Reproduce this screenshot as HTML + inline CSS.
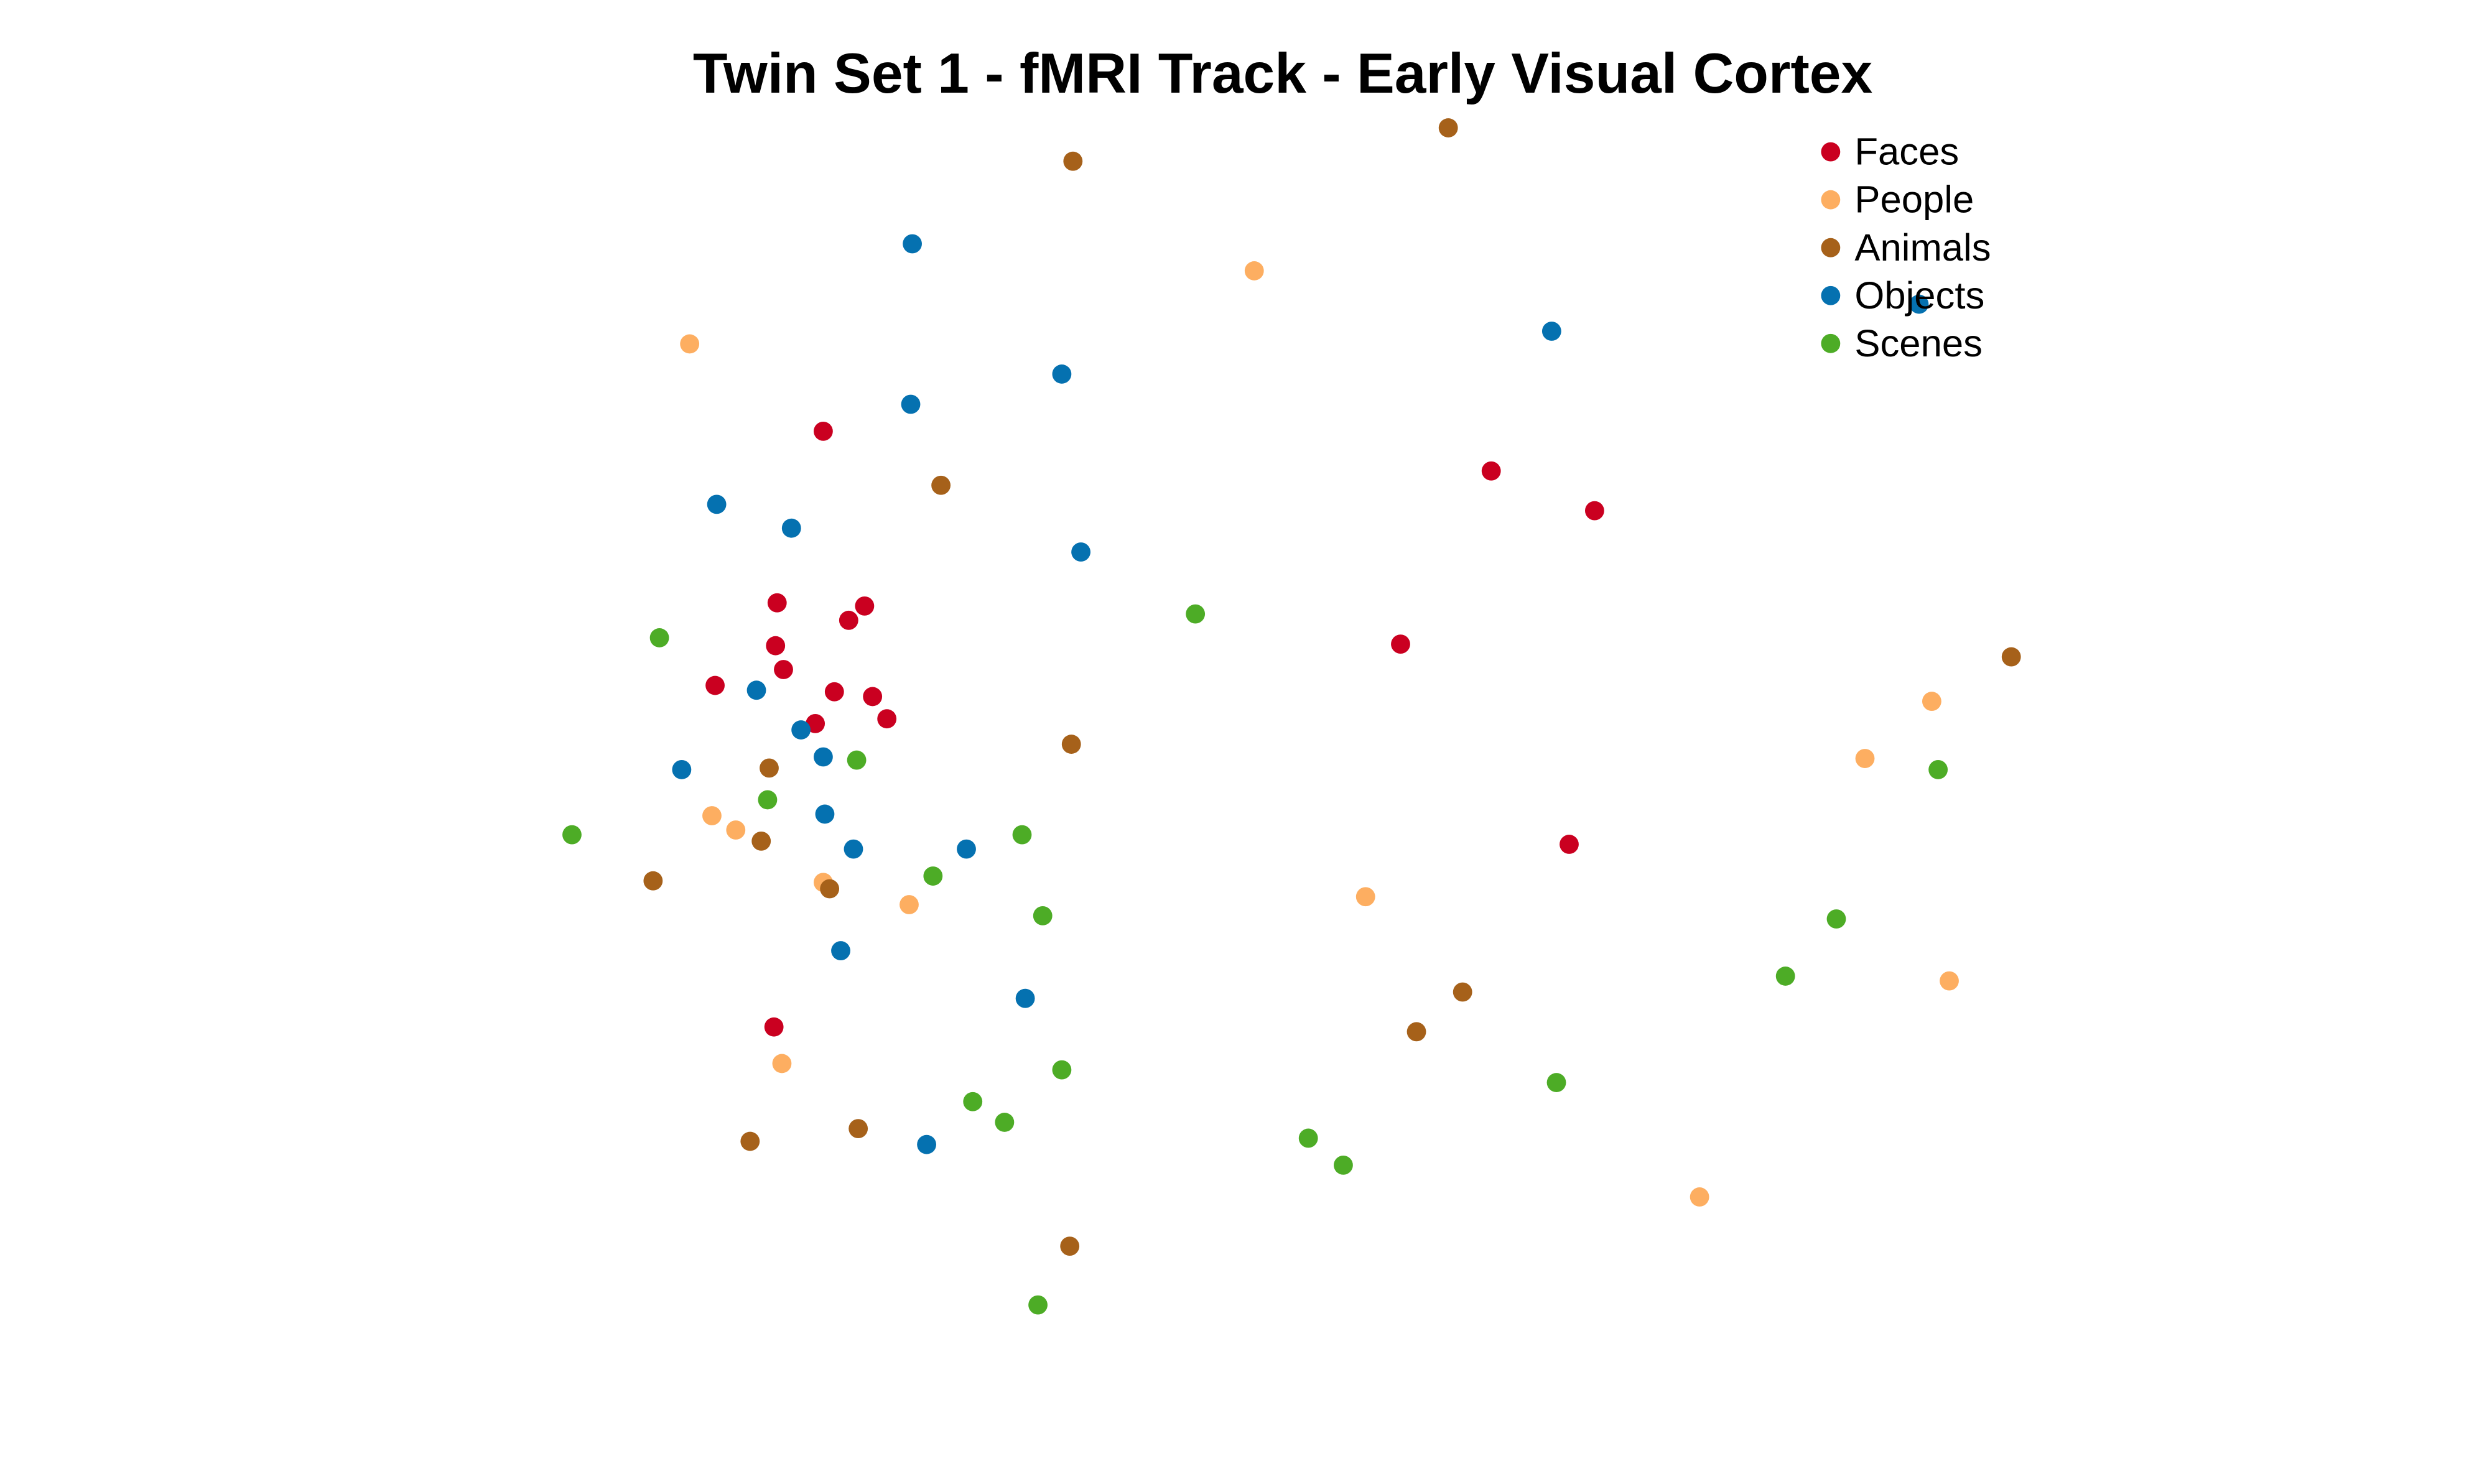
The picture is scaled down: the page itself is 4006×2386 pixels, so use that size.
<!DOCTYPE html>
<html><head><meta charset="utf-8"><title>Twin Set 1 - fMRI Track - Early Visual Cortex</title>
<style>html,body{margin:0;padding:0;background:#fff;}svg{display:block;}</style></head>
<body>
<svg id="chart" width="4006" height="2386" viewBox="0 0 1560 929" xmlns="http://www.w3.org/2000/svg">
<rect x="0" y="0" width="1560" height="929" fill="#fff"/>
<text x="803" y="58" text-anchor="middle" font-family="Liberation Sans, Arial, sans-serif" font-weight="bold" font-size="35.5" fill="#000">Twin Set 1 - fMRI Track - Early Visual Cortex</text>
<g id="points"></g>
<g id="legend"></g>
</svg>
<script>
// Data in arbitrary MDS units (x right, y up)
const categories = ["Faces","People","Animals","Objects","Scenes"];
const colors = ["#ca0020","#fdae61","#a6611a","#0571b0","#4dac26"];
const facesX = [-2.63,1.57,2.22,-2.92,-2.37,-2.47,-2.93,1.00,-2.88,-3.31,-2.56,-2.32,-2.23,-2.68,2.06,-2.94];
const facesY = [1.94,1.69,1.44,0.86,0.84,0.75,0.59,0.60,0.44,0.34,0.30,0.27,0.13,0.10,-0.66,-1.81];
const peopleX = [-3.47,0.08,4.34,3.92,-3.33,-3.18,-2.63,-2.09,0.78,4.45,-2.89,2.88];
const peopleY = [2.49,2.95,0.24,-0.12,-0.48,-0.57,-0.90,-1.04,-0.99,-1.52,-2.04,-2.88];
const animalsX = [-1.06,1.30,-1.89,4.84,-1.07,-2.97,-3.02,-3.70,-2.59,1.39,1.10,-2.41,-3.09,-1.08];
const animalsY = [3.64,3.85,1.60,0.52,-0.03,-0.18,-0.64,-0.89,-0.94,-1.59,-1.84,-2.45,-2.53,-3.19];
const objectsX = [-2.07,1.95,4.26,-1.13,-2.08,-3.30,-2.83,-1.01,-3.05,-2.77,-2.63,-3.52,-2.62,-2.44,-1.73,-2.52,-1.36,-1.98];
const objectsY = [3.12,2.57,2.74,2.30,2.11,1.48,1.33,1.18,0.31,0.06,-0.11,-0.19,-0.47,-0.69,-0.69,-1.33,-1.63,-2.55];
const scenesX = [-0.29,-3.66,-2.42,4.38,-2.98,-4.21,-1.38,-1.94,-1.25,3.74,3.42,-1.13,1.98,-1.69,-1.49,0.42,0.64,-1.28];
const scenesY = [0.79,0.64,-0.13,-0.19,-0.38,-0.60,-0.60,-0.86,-1.11,-1.13,-1.49,-2.08,-2.16,-2.28,-2.41,-2.51,-2.68,-3.56];

const xs = [facesX, peopleX, animalsX, objectsX, scenesX];
const ys = [facesY, peopleY, animalsY, objectsY, scenesY];

// Axis functions (display units)
function xScale(v){ return 777.2 + v*99.56; }
function yScale(v){ return 462.9 - v*99.46; }

const NS = "http://www.w3.org/2000/svg";
const pts = document.getElementById("points");
for (let c = 0; c < categories.length; c++) {
  const g = document.createElementNS(NS, "g");
  
  
  for (let i = 0; i < xs[c].length; i++) {
    const dot = document.createElementNS(NS, "circle");
    dot.setAttribute("cx", xScale(xs[c][i]));
    dot.setAttribute("cy", yScale(ys[c][i]));
    dot.setAttribute("r", 6);
    dot.setAttribute("fill", colors[c]);
    
    
    g.appendChild(dot);
  }
  pts.appendChild(g);
}

const leg = document.getElementById("legend");
for (let c = 0; c < categories.length; c++) {
  const y = 95 + c*30;
  const entry = document.createElementNS(NS, "g");
  
  
  const m = document.createElementNS(NS, "circle");
  m.setAttribute("cx", 1146); m.setAttribute("cy", y); m.setAttribute("r", 6);
  m.setAttribute("fill", colors[c]);
  
  
  const t = document.createElementNS(NS, "text");
  t.setAttribute("x", 1161); t.setAttribute("y", y + 8);
  t.setAttribute("font-family", "Liberation Sans, Arial, sans-serif");
  t.setAttribute("font-size", "24");
  t.setAttribute("fill", "#000");
  t.textContent = categories[c];
  
  
  entry.appendChild(m); entry.appendChild(t);
  leg.appendChild(entry);
}
</script>
</body></html>
